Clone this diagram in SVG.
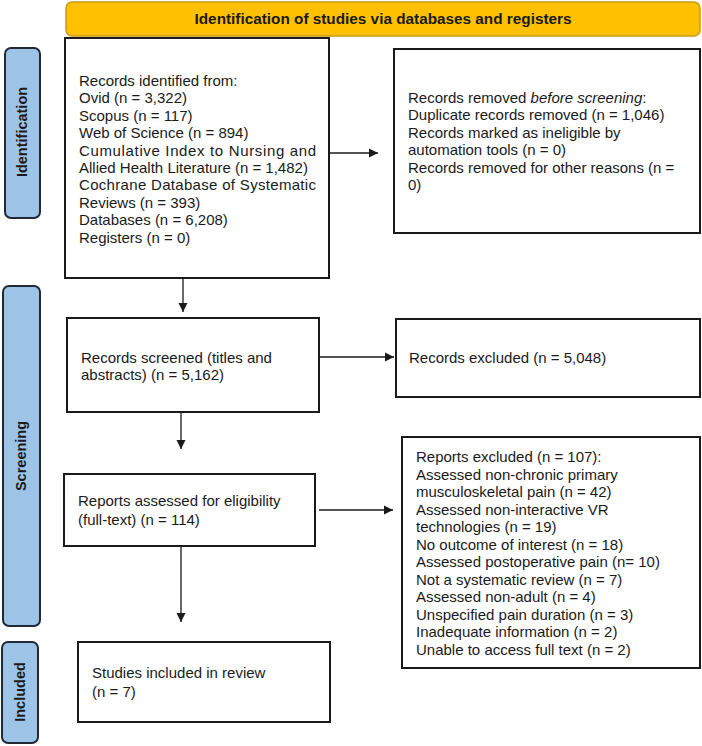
<svg xmlns="http://www.w3.org/2000/svg" width="702" height="746" viewBox="0 0 702 746">
<style>
.box{fill:#fff;stroke:#1a1a1a;stroke-width:2}
.lbl{fill:#9dc3e6;stroke:#1f2a36;stroke-width:2}
.t{font-family:"Liberation Sans",Arial,sans-serif;font-size:15px;fill:#1a1a1a}
.b{font-family:"Liberation Sans",Arial,sans-serif;font-weight:bold;font-size:14.5px;fill:#1a1a1a}
.c{stroke:#1a1a1a;stroke-width:1.3;fill:none;marker-end:url(#ah)}
</style>
<defs>
<marker id="ah" markerWidth="10" markerHeight="10" refX="9" refY="5" orient="auto" markerUnits="userSpaceOnUse">
<path d="M0,0.5 L9,5 L0,9.5 Z" fill="#1a1a1a"/>
</marker>
</defs>
<rect width="702" height="746" fill="#fff"/>
<g id="header">
<rect x="66" y="2" width="634" height="34" rx="6" fill="#ffc000" stroke="#c99a10" stroke-width="1.5"/>
<text class="b" x="383" y="24" text-anchor="middle" textLength="377" lengthAdjust="spacingAndGlyphs">Identification of studies via databases and registers</text>
</g>
<g id="lbl-identification">
<rect class="lbl" x="5" y="48" width="35" height="170" rx="6"/>
<text class="b" transform="translate(27,132) rotate(-90)" text-anchor="middle">Identification</text>
</g>
<g id="lbl-screening">
<rect class="lbl" x="3" y="286" width="37" height="340" rx="6"/>
<text class="b" transform="translate(26,456) rotate(-90)" text-anchor="middle">Screening</text>
</g>
<g id="lbl-included">
<rect class="lbl" x="2" y="642" width="36" height="101" rx="6"/>
<text class="b" transform="translate(25,692) rotate(-90)" text-anchor="middle">Included</text>
</g>
<g id="n-identified">
<rect class="box" x="65" y="38" width="264" height="240"/>
<text class="t" x="79" y="86">Records identified from:</text>
<text class="t" x="79" y="103.4">Ovid (n = 3,322)</text>
<text class="t" x="79" y="120.8">Scopus (n = 117)</text>
<text class="t" x="79" y="138.2">Web of Science (n = 894)</text>
<text class="t" x="79" y="155.6" textLength="237" lengthAdjust="spacing">Cumulative Index to Nursing and</text>
<text class="t" x="79" y="173">Allied Health Literature (n = 1,482)</text>
<text class="t" x="79" y="190.4" textLength="237" lengthAdjust="spacing">Cochrane Database of Systematic</text>
<text class="t" x="79" y="207.8">Reviews (n = 393)</text>
<text class="t" x="79" y="225.2">Databases (n = 6,208)</text>
<text class="t" x="79" y="242.6">Registers (n = 0)</text>
</g>
<g id="n-removed">
<rect class="box" x="394" y="49" width="306" height="184"/>
<text class="t" x="408" y="103">Records removed <tspan font-style="italic">before screening</tspan>:</text>
<text class="t" x="408" y="120.4">Duplicate records removed (n = 1,046)</text>
<text class="t" x="408" y="137.8">Records marked as ineligible by</text>
<text class="t" x="408" y="155.2">automation tools (n = 0)</text>
<text class="t" x="408" y="172.6">Records removed for other reasons (n =</text>
<text class="t" x="408" y="190">0)</text>
</g>
<g id="n-screened">
<rect class="box" x="67" y="318" width="252" height="94"/>
<text class="t" x="81" y="363">Records screened (titles and</text>
<text class="t" x="81" y="380.4">abstracts) (n = 5,162)</text>
</g>
<g id="n-excluded">
<rect class="box" x="396" y="319" width="304" height="78"/>
<text class="t" x="409" y="363">Records excluded (n = 5,048)</text>
</g>
<g id="n-assessed">
<rect class="box" x="64" y="474" width="251" height="72"/>
<text class="t" x="78" y="506">Reports assessed for eligibility</text>
<text class="t" x="78" y="525">(full-text) (n = 114)</text>
</g>
<g id="n-reports-excluded">
<rect class="box" x="402" y="437" width="298" height="231"/>
<text class="t" x="416" y="462">Reports excluded (n = 107):</text>
<text class="t" x="416" y="479.5">Assessed non-chronic primary</text>
<text class="t" x="416" y="497">musculoskeletal pain (n = 42)</text>
<text class="t" x="416" y="514.5">Assessed non-interactive VR</text>
<text class="t" x="416" y="532">technologies (n = 19)</text>
<text class="t" x="416" y="549.5">No outcome of interest (n = 18)</text>
<text class="t" x="416" y="567">Assessed postoperative pain (n= 10)</text>
<text class="t" x="416" y="584.5">Not a systematic review (n = 7)</text>
<text class="t" x="416" y="602">Assessed non-adult (n = 4)</text>
<text class="t" x="416" y="619.5">Unspecified pain duration (n = 3)</text>
<text class="t" x="416" y="637">Inadequate information (n = 2)</text>
<text class="t" x="416" y="654.5">Unable to access full text (n = 2)</text>
</g>
<g id="n-included">
<rect class="box" x="78" y="642" width="252" height="80"/>
<text class="t" x="92" y="678">Studies included in review</text>
<text class="t" x="92" y="697">(n = 7)</text>
</g>
<g id="connectors">
<path class="c" d="M329,153 H378"/>
<path class="c" d="M183,278 V312"/>
<path class="c" d="M319,357 H394"/>
<path class="c" d="M181,412 V449"/>
<path class="c" d="M319,510 H393"/>
<path class="c" d="M181,546 V622"/>
</g>
</svg>
